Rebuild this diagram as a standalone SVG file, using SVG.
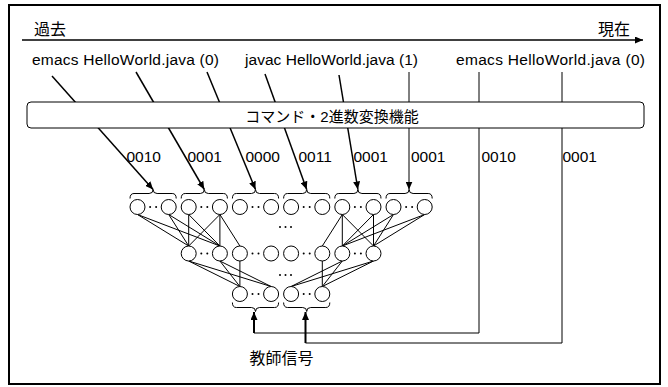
<svg xmlns="http://www.w3.org/2000/svg" xmlns:xlink="http://www.w3.org/1999/xlink" width="668" height="387" viewBox="0 0 668 387">
<style>
.t{font-family:"Liberation Sans","Noto Sans CJK JP",sans-serif;font-size:15.5px;fill:#000}
.j{font-family:"Liberation Sans","Noto Sans CJK JP",sans-serif;font-size:15px;fill:#000}
.ln{stroke:#000;stroke-width:1.5;fill:none}
.thin{stroke:#000;stroke-width:1;fill:none}
.net{stroke:#000;stroke-width:1;fill:none}
.nd{stroke:#000;stroke-width:1;fill:#fff}
.dot{fill:#000}
</style>
<defs>
<marker id="ah" markerUnits="userSpaceOnUse" markerWidth="9" markerHeight="7" refX="8" refY="3.5" orient="auto">
<path d="M0,0 L8,3.5 L0,7 z" fill="#000"/>
</marker>
<g id="pair">
<circle class="nd" cx="-15.6" cy="0" r="7.5"/>
<circle class="nd" cx="15.6" cy="0" r="7.5"/>
<circle class="dot" cx="-3" cy="0" r="1"/>
<circle class="dot" cx="3" cy="0" r="1"/>
</g>
<path id="braceTop" class="thin" d="M-23.1 9 Q-23.1 4 -19.1 4 L-4 4 Q0 4 0 0 Q0 4 4 4 L19.1 4 Q23.1 4 23.1 9"/>
<path id="braceBot" class="thin" d="M-23.1 -9 Q-23.1 -4 -19.1 -4 L-4 -4 Q0 -4 0 0 Q0 -4 4 -4 L19.1 -4 Q23.1 -4 23.1 -9"/>
</defs>

<rect x="9" y="5" width="651" height="379" fill="#fff" stroke="#000" stroke-width="2"/>

<g id="timeline">
<line x1="22" y1="40" x2="643" y2="40" stroke="#000" stroke-width="1.5" marker-end="url(#ah)"/>
<text class="j" x="34" y="35" font-size="16" style="font-size:16px">過去</text>
<text class="j" x="598" y="35" style="font-size:16px">現在</text>
</g>

<g id="labels">
<text class="t" x="32" y="65" textLength="187" lengthAdjust="spacing">emacs HelloWorld.java (0)</text>
<text class="t" x="245" y="65" textLength="173" lengthAdjust="spacing">javac HelloWorld.java (1)</text>
<text class="t" x="456" y="65" textLength="189" lengthAdjust="spacing">emacs HelloWorld.java (0)</text>
</g>

<g id="connectors">
<line class="ln" x1="52" y1="76" x2="153.1" y2="189.5" marker-end="url(#ah)"/>
<line class="ln" x1="136" y1="72" x2="204.3" y2="189.5" marker-end="url(#ah)"/>
<line class="ln" x1="207" y1="72" x2="255.5" y2="189.5" marker-end="url(#ah)"/>
<line class="ln" x1="265" y1="74" x2="306.7" y2="189.5" marker-end="url(#ah)"/>
<line class="ln" x1="339" y1="75" x2="357.9" y2="189.5" marker-end="url(#ah)"/>
<line class="thin" x1="409" y1="72" x2="409" y2="189.5" stroke-width="1.3" marker-end="url(#ah)"/>
<path class="thin" d="M479 72 V333 H254 V320"/>
<path d="M254 333 V312" stroke="#000" stroke-width="2" fill="none" marker-end="url(#ah)"/>
<path class="thin" d="M562 72 V343 H305.5 V320"/>
<path d="M305.5 343 V312" stroke="#000" stroke-width="2" fill="none" marker-end="url(#ah)"/>
<g class="net">
<line x1="137.5" y1="214.5" x2="188.7" y2="246"/>
<line x1="137.5" y1="214.5" x2="219.9" y2="246"/>
<line x1="168.7" y1="214.5" x2="188.7" y2="246"/>
<line x1="168.7" y1="214.5" x2="219.9" y2="246"/>
<line x1="188.7" y1="214.5" x2="188.7" y2="246"/>
<line x1="188.7" y1="214.5" x2="219.9" y2="246"/>
<line x1="219.9" y1="214.5" x2="188.7" y2="246"/>
<line x1="219.9" y1="214.5" x2="219.9" y2="246"/>
<line x1="219.9" y1="214.5" x2="239.9" y2="246"/>
<line x1="342.3" y1="214.5" x2="322.3" y2="246"/>
<line x1="342.3" y1="214.5" x2="342.3" y2="246"/>
<line x1="342.3" y1="214.5" x2="373.5" y2="246"/>
<line x1="373.5" y1="214.5" x2="342.3" y2="246"/>
<line x1="373.5" y1="214.5" x2="373.5" y2="246"/>
<line x1="393.5" y1="214.5" x2="342.3" y2="246"/>
<line x1="393.5" y1="214.5" x2="373.5" y2="246"/>
<line x1="424.7" y1="214.5" x2="342.3" y2="246"/>
<line x1="424.7" y1="214.5" x2="373.5" y2="246"/>
<line x1="188.7" y1="261" x2="239.9" y2="286.5"/>
<line x1="188.7" y1="261" x2="271.1" y2="286.5"/>
<line x1="219.9" y1="261" x2="239.9" y2="286.5"/>
<line x1="219.9" y1="261" x2="271.1" y2="286.5"/>
<line x1="239.9" y1="261" x2="239.9" y2="286.5"/>
<line x1="322.3" y1="261" x2="322.3" y2="286.5"/>
<line x1="342.3" y1="261" x2="291.1" y2="286.5"/>
<line x1="342.3" y1="261" x2="322.3" y2="286.5"/>
<line x1="373.5" y1="261" x2="291.1" y2="286.5"/>
<line x1="373.5" y1="261" x2="322.3" y2="286.5"/>
</g>
</g>

<g id="converter">
<rect x="27" y="102" width="617" height="26" rx="4" ry="4" fill="#fff" stroke="#000" stroke-width="1"/>
<text class="j" x="332" y="121.5" text-anchor="middle">コマンド・2進数変換機能</text>
</g>

<g id="codes">
<text class="t" x="126.5" y="162">0010</text>
<text class="t" x="187.5" y="162">0001</text>
<text class="t" x="245.5" y="162">0000</text>
<text class="t" x="298.5" y="162">0011</text>
<text class="t" x="353.5" y="162">0001</text>
<text class="t" x="411" y="162">0001</text>
<text class="t" x="481.5" y="162">0010</text>
<text class="t" x="562.5" y="162">0001</text>
</g>

<g id="input0"><use xlink:href="#braceTop" x="153.1" y="189.5"/><use xlink:href="#pair" x="153.1" y="207"/></g>
<g id="input1"><use xlink:href="#braceTop" x="204.3" y="189.5"/><use xlink:href="#pair" x="204.3" y="207"/></g>
<g id="input2"><use xlink:href="#braceTop" x="255.5" y="189.5"/><use xlink:href="#pair" x="255.5" y="207"/></g>
<g id="input3"><use xlink:href="#braceTop" x="306.7" y="189.5"/><use xlink:href="#pair" x="306.7" y="207"/></g>
<g id="input4"><use xlink:href="#braceTop" x="357.9" y="189.5"/><use xlink:href="#pair" x="357.9" y="207"/></g>
<g id="input5"><use xlink:href="#braceTop" x="409.1" y="189.5"/><use xlink:href="#pair" x="409.1" y="207"/></g>

<g id="ellipsis1">
<circle class="dot" cx="280" cy="227" r="1"/><circle class="dot" cx="285.5" cy="227" r="1"/><circle class="dot" cx="291" cy="227" r="1"/>
</g>

<g id="hidden1"><use xlink:href="#pair" x="204.3" y="253.5"/></g>
<g id="hidden2"><use xlink:href="#pair" x="255.5" y="253.5"/></g>
<g id="hidden3"><use xlink:href="#pair" x="306.7" y="253.5"/></g>
<g id="hidden4"><use xlink:href="#pair" x="357.9" y="253.5"/></g>

<g id="ellipsis2">
<circle class="dot" cx="280" cy="275" r="1"/><circle class="dot" cx="285.5" cy="275" r="1"/><circle class="dot" cx="291" cy="275" r="1"/>
</g>

<g id="output0"><use xlink:href="#pair" x="255.5" y="294"/><use xlink:href="#braceBot" x="255.5" y="311.5"/></g>
<g id="output1"><use xlink:href="#pair" x="306.7" y="294"/><use xlink:href="#braceBot" x="306.7" y="311.5"/></g>

<g id="teacher">
<text class="j" x="249.5" y="364" style="font-size:16px">教師信号</text>
</g>
</svg>
